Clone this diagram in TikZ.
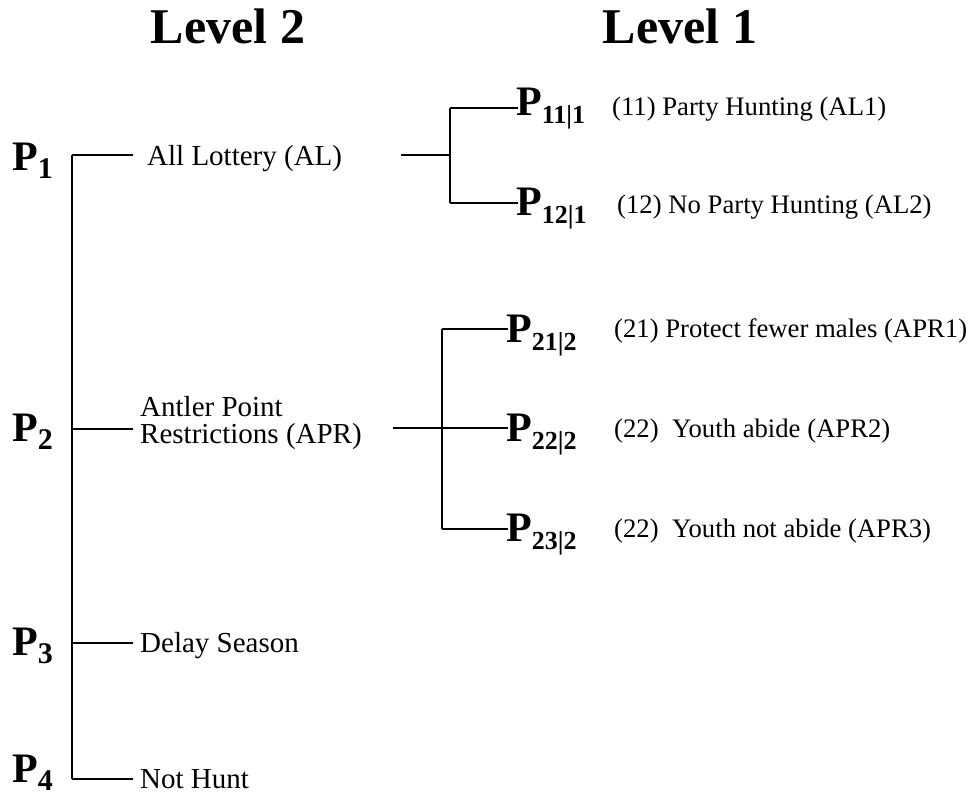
\documentclass[tikz,border=0pt]{standalone}
\usepackage{fontspec}
\setmainfont{Liberation Serif}
% bold probability symbol with a lowered subscript
\newcommand\Pvar[2]{{\bfseries\fontsize{42}{42}\selectfont P\raisebox{-8pt}{\fontsize{#1}{#1}\selectfont #2}}}
\tikzset{
  lvl/.style={anchor=base, inner sep=0pt, font=\bfseries\fontsize{50}{50}\selectfont},
  opt/.style={inner sep=0pt, font=\fontsize{29}{27}\selectfont, align=left},
  sub/.style={anchor=base west, inner sep=0pt, font=\fontsize{26.7}{27}\selectfont},
  plab/.style={anchor=base west, inner sep=0pt},
  wire/.style={line width=1.8pt}
}
\begin{document}
\begin{tikzpicture}[x=1pt,y=-1pt]
\useasboundingbox (0,0) rectangle (972,797);

% headings
\node[lvl] (h2) at (228,44) {Level 2};
\node[lvl] (h1) at (680,44) {Level 1};

% level 2 probabilities
\node[plab] (p1) at (12,171) {\Pvar{30}{1}};
\node[plab] (p2) at (12,441) {\Pvar{30}{2}};
\node[plab] (p3) at (12,655) {\Pvar{30}{3}};
\node[plab] (p4) at (12,782) {\Pvar{30}{4}};

% level 2 spine and branches
\coordinate (s1) at (72,155);
\coordinate (s2) at (72,429);
\coordinate (s3) at (72,643);
\coordinate (s4) at (72,779);
\coordinate (e1) at (133,155);
\coordinate (e2) at (133,429);
\coordinate (e3) at (133,643);
\coordinate (e4) at (133,779);
\draw[wire] (s1) -- (s4);
\draw[wire] (s1) -- (e1);
\draw[wire] (s2) -- (e2);
\draw[wire] (s3) -- (e3);
\draw[wire] (s4) -- (e4);

% level 2 options
\node[opt, anchor=base west] (al) at (147,165) {All Lottery (AL)};
\node[opt, anchor=west] (apr) at (140,423) {Antler Point\\Restrictions (APR)};
\node[opt, anchor=base west] (ds) at (140,652) {Delay Season};
\node[opt, anchor=base west] (nh) at (140,788) {Not Hunt};

% level 1 nest under All Lottery
\coordinate (a0) at (401,155);
\coordinate (aj) at (450,155);
\coordinate (at) at (450,108);
\coordinate (ab) at (450,203);
\coordinate (a1) at (518,108);
\coordinate (a2) at (518,203);
\draw[wire] (a0) -- (aj);
\draw[wire] (at) -- (ab);
\draw[wire] (at) -- (a1);
\draw[wire] (ab) -- (a2);
\node[plab] (p11) at (516,116) {\Pvar{26}{11|1}};
\node[plab] (p12) at (516,215) {\Pvar{26}{12|1}};
\node[sub] (t11) at (612,116) {(11) Party Hunting (AL1)};
\node[sub] (t12) at (617,213) {(12) No Party Hunting (AL2)};

% level 1 nest under Antler Point Restrictions
\coordinate (r0) at (393,428);
\coordinate (rj) at (442,428);
\coordinate (rt) at (442,329);
\coordinate (rb) at (442,529);
\coordinate (r1) at (508,329);
\coordinate (r2) at (508,428);
\coordinate (r3) at (508,529);
\draw[wire] (r0) -- (rj);
\draw[wire] (rt) -- (rb);
\draw[wire] (rt) -- (r1);
\draw[wire] (rj) -- (r2);
\draw[wire] (rb) -- (r3);
\node[plab] (p21) at (506,342) {\Pvar{26}{21|2}};
\node[plab] (p22) at (506,441) {\Pvar{26}{22|2}};
\node[plab] (p23) at (506,541) {\Pvar{26}{23|2}};
\node[sub] (t21) at (614,337) {(21) Protect fewer males (APR1)};
\node[sub] (t22) at (614,437) {(22)\ \ Youth abide (APR2)};
\node[sub] (t23) at (614,537) {(22)\ \ Youth not abide (APR3)};
\end{tikzpicture}
\end{document}
